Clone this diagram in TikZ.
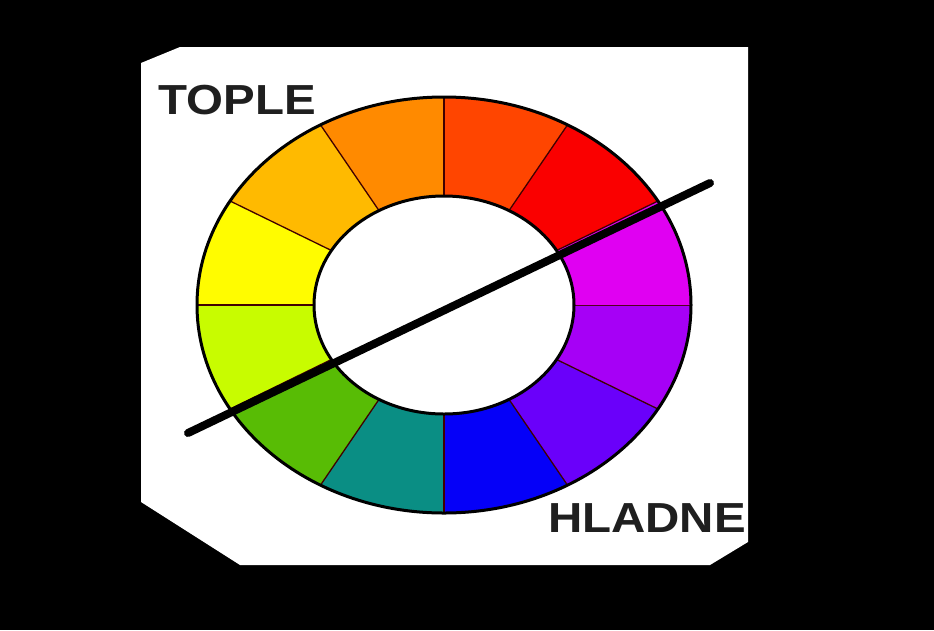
\documentclass[tikz,border=0pt]{standalone}
\usepackage{fontspec}
\setmainfont{Liberation Sans}
\usetikzlibrary{calc}

\definecolor{wViolet}{HTML}{A600F6}
\definecolor{wBlueViolet}{HTML}{6A00FA}
\definecolor{wBlue}{HTML}{0500F8}
\definecolor{wTeal}{HTML}{0A8E84}
\definecolor{wGreen}{HTML}{58BC05}
\definecolor{wYelGreen}{HTML}{C8FC00}
\definecolor{wYellow}{HTML}{FFFC00}
\definecolor{wYelOrange}{HTML}{FFBA00}
\definecolor{wOrange}{HTML}{FF8A00}
\definecolor{wRedOrange}{HTML}{FF4500}
\definecolor{wRed}{HTML}{FA0000}
\definecolor{wMagenta}{HTML}{E000F2}

\begin{document}
\begin{tikzpicture}[x=1pt, y=-1pt,
  ring/.style={draw=black, line width=3pt},
  spoke/.style={draw=black!75!red, line width=1.3pt},
  word/.style={font=\fontsize{42}{42}\selectfont\bfseries, text=black!88, inner sep=0pt, xscale=1.13},
  cutline/.style={line width=8pt, line cap=round},
]

% === BACKGROUND ===
\fill[black] (0,0) rectangle (934,630);
\useasboundingbox (0,0) rectangle (934,630);
\fill[white] (141,63) -- (180,47) -- (748,47) -- (748,542) -- (710,565) -- (240,565) -- (141,502) -- cycle;

% === COLOUR WHEEL ===
\coordinate (hub) at (444,305);
\begin{scope}[shift={(hub)}]
\foreach \col [count=\i from 0] in {wViolet,wBlueViolet,wBlue,wTeal,wGreen,wYelGreen,wYellow,wYelOrange,wOrange,wRedOrange,wRed,wMagenta}{
  \pgfmathsetmacro{\a}{30*\i}
  \pgfmathsetmacro{\b}{30*\i+30}
  \fill[\col] (\a:247 and 208) arc[start angle=\a, end angle=\b, x radius=247, y radius=208]
    -- (\b:130 and 109) arc[start angle=\b, end angle=\a, x radius=130, y radius=109] -- cycle;
  \draw[spoke] (\a:130 and 109) -- (\a:247 and 208);
}
\draw[ring] (0,0) ellipse [x radius=247, y radius=208];
\draw[ring] (0,0) ellipse [x radius=130, y radius=109];
\end{scope}

% === WARM / COOL SPLIT ===
\coordinate (warmEnd) at (188,433);
\coordinate (coolEnd) at (710,183);
\draw[cutline] (warmEnd) -- (coolEnd);

\node[word] (topleLbl) at (237,100) {TOPLE};
\node[word] (hladneLbl) at (647,518) {HLADNE};
\end{tikzpicture}
\end{document}
